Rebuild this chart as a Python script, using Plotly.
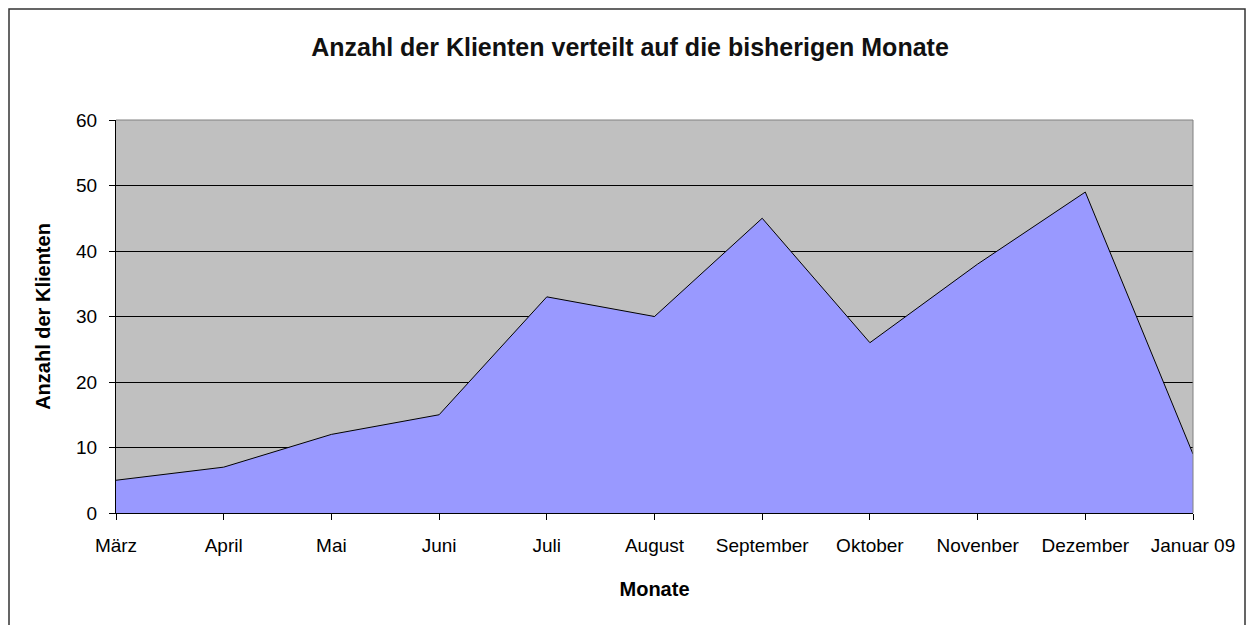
import plotly.graph_objects as go

monate = ["März", "April", "Mai", "Juni", "Juli", "August", "September",
          "Oktober", "Novenber", "Dezember", "Januar 09"]
klienten = [5, 7, 12, 15, 33, 30, 45, 26, 38, 49, 9]
y_ticks = [0, 10, 20, 30, 40, 50, 60]

xs = list(range(len(monate)))

fig = go.Figure()
fig.add_trace(go.Scatter(
    x=xs, y=klienten, mode="lines", fill="tozeroy",
    fillcolor="#9999ff", line=dict(color="black", width=1),
    hoverinfo="skip", showlegend=False))

font = "Liberation Sans, Arial, sans-serif"
L, T, PW, PH = 108, 112, 1077, 393
fig.update_layout(
    width=1257, height=625,
    margin=dict(l=L, r=1257 - L - PW, t=T, b=625 - T - PH),
    paper_bgcolor="white", plot_bgcolor="#c0c0c0",
    font=dict(family=font, color="black", size=19),
    title=dict(text="<b>Anzahl der Klienten verteilt auf die bisherigen Monate</b>",
               x=(630 - 8) / 1257, xref="container", xanchor="center",
               y=1 - 39 / 625, yanchor="middle",
               font=dict(size=25, family=font, color="#111111")),
    xaxis=dict(range=[0, len(monate) - 1], tickvals=xs, ticktext=monate,
               showgrid=False, zeroline=False, showline=True, linecolor="black",
               linewidth=1, ticks="outside", ticklen=6, tickcolor="black",
               ticklabelstandoff=9, tickfont=dict(size=19),
               title=dict(text="<b>Monate</b>", font=dict(size=20), standoff=27)),
    yaxis=dict(range=[0, 60], tickvals=y_ticks, showgrid=True, gridcolor="black",
               gridwidth=1, zeroline=False, showline=True, linecolor="black",
               linewidth=1, ticks="outside", ticklen=6, tickcolor="black",
               ticklabelstandoff=8, tickfont=dict(size=19),
               title=dict(text="<b>Anzahl der Klienten</b>", font=dict(size=20), standoff=20)),
    shapes=[
        dict(type="line", xref="paper", yref="paper", x0=0, x1=1, y0=1, y1=1,
             line=dict(color="#808080", width=1)),
        dict(type="line", xref="paper", yref="paper", x0=1, x1=1, y0=0, y1=1,
             line=dict(color="#808080", width=1)),
        dict(type="rect", xref="paper", yref="paper",
             x0=(1 - L) / PW, x1=(1237 - L) / PW,
             y0=(T + PH - 640) / PH, y1=(T + PH - 1) / PH,
             line=dict(color="#333333", width=1.5), fillcolor="rgba(0,0,0,0)",
             layer="below"),
    ],
)

fig.write_html("out.html")
